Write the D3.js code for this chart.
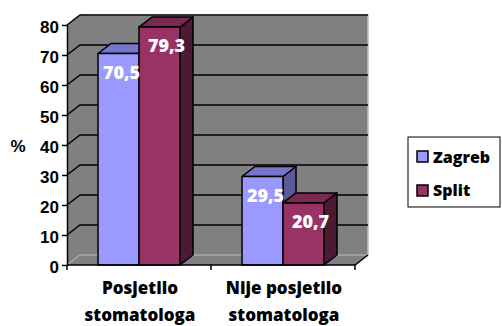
<!DOCTYPE html>
<html>
<head>
<meta charset="utf-8">
<script src="https://cdn.jsdelivr.net/npm/d3@7"></script>
<style>
  body { margin: 0; background: #fff; }
  svg { display: block; }
</style>
</head>
<body>
<svg id="chart" width="502" height="326"></svg>
<script>
// data
var categories = [["Posjetilo", "stomatologa"], ["Nije posjetilo", "stomatologa"]];
var seriesNames = ["Zagreb", "Split"];
var zagreb = [70.5, 29.5];
var split = [79.3, 20.7];
var yTicks = [0, 10, 20, 30, 40, 50, 60, 70, 80];

var seriesValues = [zagreb, split];
var front = ["#9999ff", "#993366"];
var topC = ["#7676cc", "#7a2952"];
var sideC = ["#5a5a99", "#4d1a33"];

var svg = d3.select("#chart");

var left = 67, right = 355, bottom = 265, topY = 25;
var dx = 13, dy = -10;  // depth offset of the 3d box

var y = d3.scaleLinear().domain([0, 80]).range([bottom, topY]);
var x0 = d3.scaleBand().domain(d3.range(categories.length)).range([left, right]);
var groupW = 82;
var x1 = d3.scaleBand().domain(d3.range(seriesNames.length)).range([0, groupW]);

var calibri = "'Open Sans', 'Noto Sans', sans-serif";
var arial = "'Liberation Sans', Arial, sans-serif";

// side wall
svg.append("path")
  .attr("d", "M" + left + "," + y(80) + "L" + (left + dx) + "," + (y(80) + dy) +
    "L" + (left + dx) + "," + (bottom + dy) + "L" + left + "," + bottom + "Z")
  .attr("fill", "#808080");

// back wall
svg.append("rect")
  .attr("x", left + dx).attr("y", y(80) + dy)
  .attr("width", right - left).attr("height", y(0) - y(80))
  .attr("fill", "#808080");
svg.append("path")
  .attr("d", "M" + (left + dx) + "," + (y(80) + dy) + "H" + (right + dx) + "V" + (bottom + dy))
  .attr("fill", "none").attr("stroke", "#c0c0c0").attr("stroke-width", 1.5);

// floor
svg.append("path")
  .attr("d", "M" + left + "," + bottom + "L" + (left + dx) + "," + (bottom + dy) +
    "H" + (right + dx) + "L" + right + "," + bottom + "Z")
  .attr("fill", "#808080");
svg.append("path")
  .attr("d", "M" + left + "," + bottom + "L" + (left + dx) + "," + (bottom + dy) + "H" + (right + dx))
  .attr("fill", "none").attr("stroke", "#bdbdbd").attr("stroke-width", 1);

// gridlines
yTicks.filter(function(d) { return d > 0; }).forEach(function(d) {
  svg.append("path")
    .attr("d", "M" + left + "," + y(d) + "L" + (left + dx) + "," + (y(d) + dy) + "H" + (right + dx))
    .attr("fill", "none").attr("stroke", "#000").attr("stroke-width", 1.5);
});

// bars
categories.forEach(function(c, ci) {
  seriesNames.forEach(function(s, si) {
    var v = seriesValues[si][ci];
    var bx = x0(ci) + (x0.bandwidth() - groupW) / 2 + x1(si);
    var bw = x1.bandwidth();
    var by = y(v);
    var g = svg.append("g").attr("stroke", "#000").attr("stroke-width", 1.5).attr("stroke-linejoin", "round");
    g.append("path")
      .attr("d", "M" + (bx + bw) + "," + by + "L" + (bx + bw + dx) + "," + (by + dy) +
        "V" + (bottom + dy) + "L" + (bx + bw) + "," + bottom + "Z")
      .attr("fill", sideC[si]);
    g.append("path")
      .attr("d", "M" + bx + "," + by + "L" + (bx + dx) + "," + (by + dy) +
        "H" + (bx + bw + dx) + "L" + (bx + bw) + "," + by + "Z")
      .attr("fill", topC[si]);
    g.append("rect")
      .attr("x", bx).attr("y", by).attr("width", bw).attr("height", bottom - by)
      .attr("fill", front[si]);
  });
});

// value labels
categories.forEach(function(c, ci) {
  seriesNames.forEach(function(s, si) {
    var v = seriesValues[si][ci];
    var bx = x0(ci) + (x0.bandwidth() - groupW) / 2 + x1(si);
    svg.append("text")
      .attr("x", bx + x1.bandwidth() / 2 + (si === 0 ? 3 : 7))
      .attr("y", y(v) + 25)
      .attr("text-anchor", "middle")
      .attr("fill", "#fff")
      .style("font", "800 18px " + calibri)
      .text(d3.format(".1f")(v).replace(".", ","));
  });
});

// y axis
var yAxis = svg.append("g")
  .attr("transform", "translate(" + left + ",0)")
  .call(d3.axisLeft(y).tickValues(yTicks).tickSize(5).tickSizeOuter(0).tickPadding(3));
yAxis.select(".domain").attr("stroke", "#000").attr("stroke-width", 1.5);
yAxis.selectAll(".tick line").attr("stroke", "#000").attr("stroke-width", 1.5);
yAxis.selectAll(".tick text")
  .attr("dy", "0.45em")
  .attr("fill", "#000")
  .style("font", "bold 17px " + arial);

// x axis
svg.append("path")
  .attr("d", "M" + left + "," + bottom + "H" + right + "L" + (right + dx) + "," + (bottom + dy))
  .attr("fill", "none").attr("stroke", "#000").attr("stroke-width", 1.5);
var edges = x0.domain().map(function(d) { return x0(d); }).concat([right]);
edges.forEach(function(e) {
  svg.append("line")
    .attr("x1", e).attr("x2", e).attr("y1", bottom).attr("y2", bottom + 5)
    .attr("stroke", "#000").attr("stroke-width", 1.5);
});

categories.forEach(function(c, ci) {
  var t = svg.append("text")
    .attr("text-anchor", "middle")
    .attr("fill", "#000")
    .style("font", "800 17px " + calibri);
  c.forEach(function(line, li) {
    t.append("tspan")
      .attr("x", x0(ci) + x0.bandwidth() / 2 + 1)
      .attr("y", 294 + li * 27)
      .text(line);
  });
});

// axis title
svg.append("text")
  .attr("x", 18).attr("y", 152)
  .attr("text-anchor", "middle")
  .style("font", "bold 17px " + arial)
  .text("%");

// legend
var legend = svg.append("g");
legend.append("rect")
  .attr("x", 408).attr("y", 137).attr("width", 92).attr("height", 70)
  .attr("fill", "#fff").attr("stroke", "#000").attr("stroke-width", 1);
seriesNames.forEach(function(s, i) {
  legend.append("rect")
    .attr("x", 417).attr("y", 151 + i * 34).attr("width", 11).attr("height", 11)
    .attr("fill", front[i]).attr("stroke", "#000").attr("stroke-width", 1.5);
  legend.append("text")
    .attr("x", 433).attr("y", 163 + i * 33)
    .style("font", "800 16px " + calibri)
    .text(s);
});
</script>
</body>
</html>
